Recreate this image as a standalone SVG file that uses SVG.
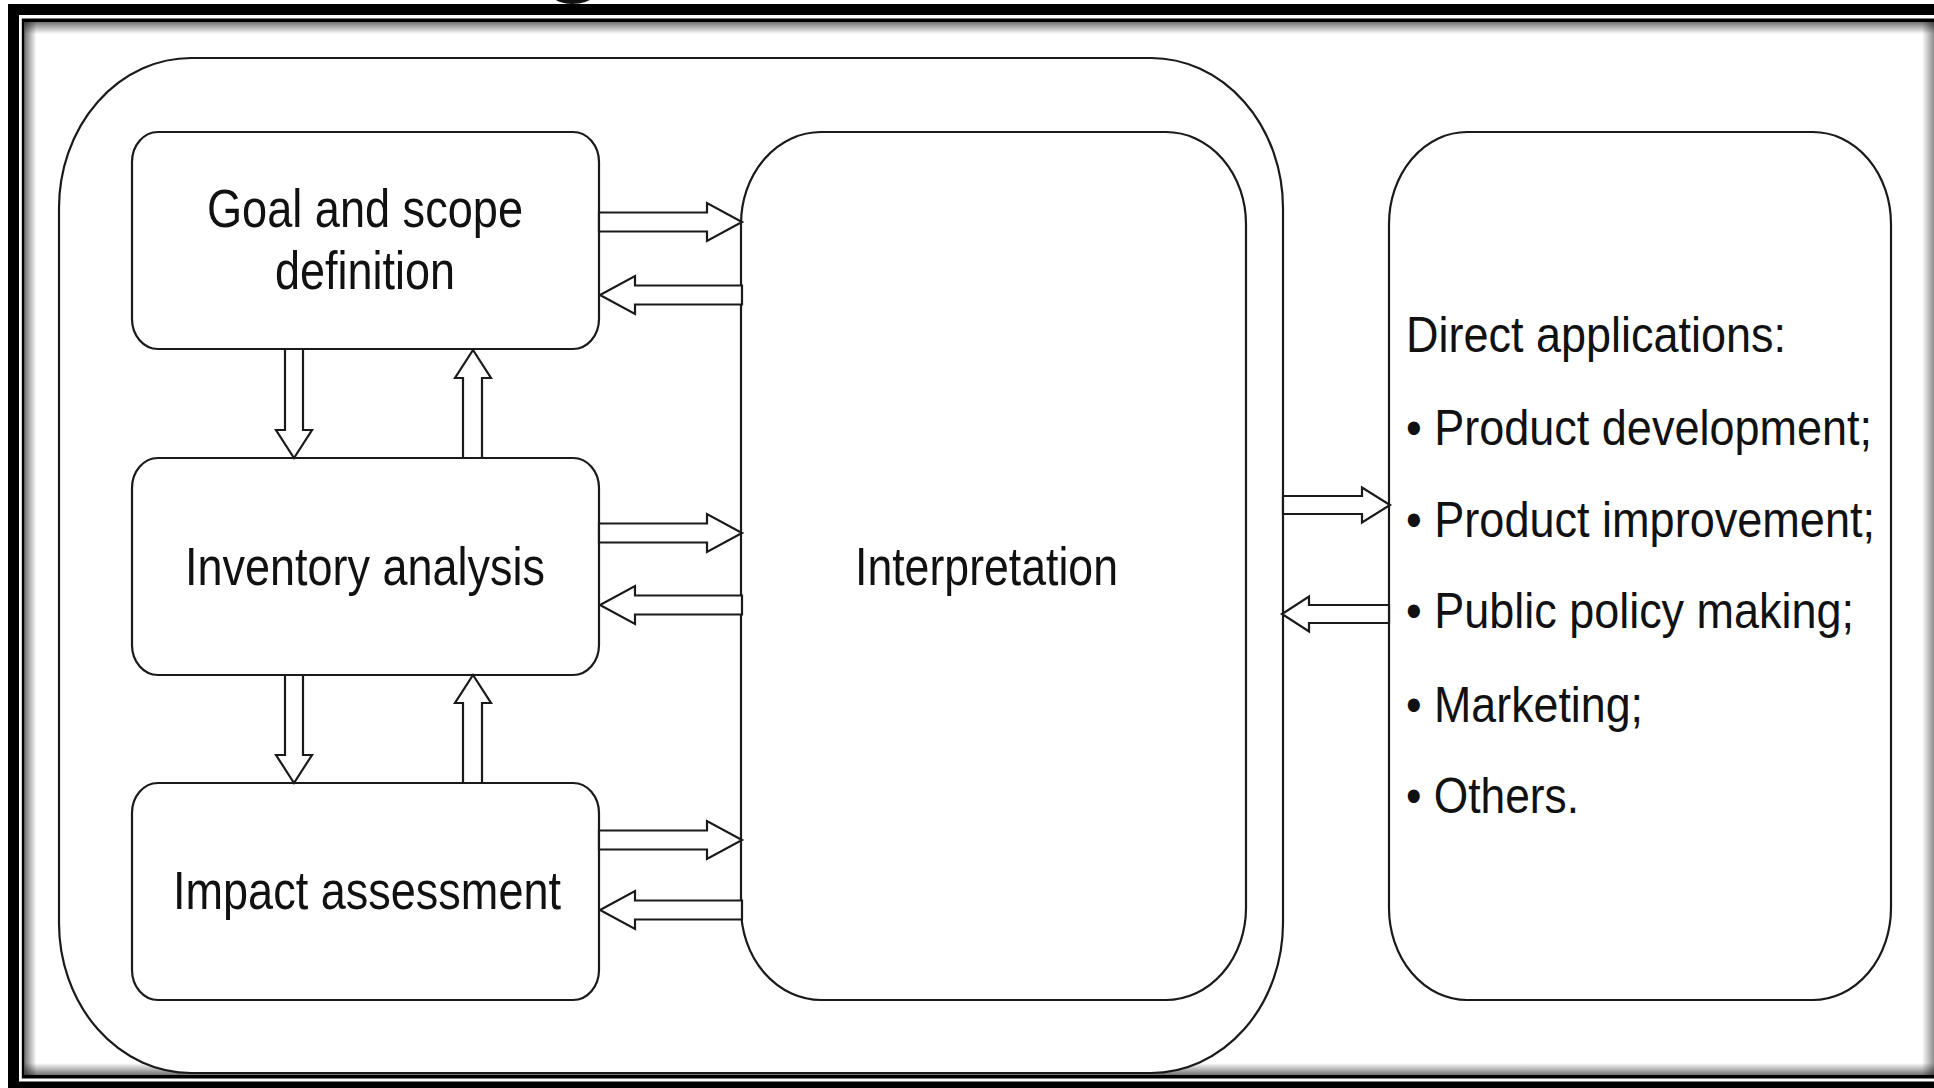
<svg xmlns="http://www.w3.org/2000/svg" width="1934" height="1088" viewBox="0 0 1934 1088">
  <defs>
    <linearGradient id="shTop" x1="0" y1="0" x2="0" y2="1">
      <stop offset="0" stop-color="#000" stop-opacity="0.55"/>
      <stop offset="1" stop-color="#000" stop-opacity="0"/>
    </linearGradient>
    <linearGradient id="shBottom" x1="0" y1="1" x2="0" y2="0">
      <stop offset="0" stop-color="#000" stop-opacity="0.55"/>
      <stop offset="1" stop-color="#000" stop-opacity="0"/>
    </linearGradient>
    <linearGradient id="shLeft" x1="0" y1="0" x2="1" y2="0">
      <stop offset="0" stop-color="#000" stop-opacity="0.55"/>
      <stop offset="1" stop-color="#000" stop-opacity="0"/>
    </linearGradient>
    <linearGradient id="shRight" x1="1" y1="0" x2="0" y2="0">
      <stop offset="0" stop-color="#000" stop-opacity="0.45"/>
      <stop offset="1" stop-color="#000" stop-opacity="0"/>
    </linearGradient>
  </defs>
  <style>
    .box { fill: #fff; stroke: #1a1a1a; stroke-width: 2.2; }
    .arrow { fill: #fff; stroke: #1a1a1a; stroke-width: 2.2; stroke-linejoin: miter; }
    .lbl { font-family: "Liberation Sans", Arial, Helvetica, sans-serif; fill: #111; }
    .big { font-size: 53px; }
    .list { font-size: 50px; }
  </style>

  <rect x="0" y="0" width="1934" height="1088" fill="#fff"/>

  <!-- heading descender peeking above the frame -->
  <text class="lbl" x="540" y="-19" font-size="112" font-weight="bold" fill="#000">g</text>

  <!-- double picture frame with inner shadow -->
  <g id="frame">
    <rect x="8" y="4" width="1960" height="1100" fill="#000"/>
    <rect x="19" y="15" width="1940" height="1066.5" fill="#fff"/>
    <rect x="21.8" y="18.5" width="1940" height="1060" fill="#000"/>
    <rect x="24.5" y="22" width="1935" height="1053" fill="#fff"/>
    <rect x="24.5" y="22" width="1912" height="12" fill="url(#shTop)"/>
    <rect x="24.5" y="22" width="12" height="1053" fill="url(#shLeft)"/>
    <rect x="24.5" y="1063" width="1912" height="12" fill="url(#shBottom)"/>
    <rect x="1922" y="22" width="12" height="1053" fill="url(#shRight)"/>
  </g>

  <!-- LCA framework container -->
  <g id="framework">
    <rect class="box" x="59" y="58" width="1224" height="1015" rx="132" ry="150"/>
  </g>

  <g id="goal">
    <rect class="box" x="132" y="132" width="467" height="217" rx="26" ry="30"/>
    <text class="lbl big" x="207" y="227" textLength="316" lengthAdjust="spacingAndGlyphs">Goal and scope</text>
    <text class="lbl big" x="275" y="289" textLength="180" lengthAdjust="spacingAndGlyphs">definition</text>
  </g>

  <g id="inventory">
    <rect class="box" x="132" y="458" width="467" height="217" rx="26" ry="30"/>
    <text class="lbl big" x="185" y="585" textLength="360" lengthAdjust="spacingAndGlyphs">Inventory analysis</text>
  </g>

  <g id="impact">
    <rect class="box" x="132" y="783" width="467" height="217" rx="26" ry="30"/>
    <text class="lbl big" x="173" y="909" textLength="388" lengthAdjust="spacingAndGlyphs">Impact assessment</text>
  </g>

  <g id="interpretation">
    <rect class="box" x="741" y="132" width="505" height="868" rx="80" ry="92"/>
    <text class="lbl big" x="855" y="585" textLength="263" lengthAdjust="spacingAndGlyphs">Interpretation</text>
  </g>

  <g id="applications">
    <rect class="box" x="1389" y="132" width="502" height="868" rx="78" ry="92"/>
    <text class="lbl list" x="1406" y="352" textLength="380" lengthAdjust="spacingAndGlyphs">Direct applications:</text>
    <text class="lbl list" x="1406" y="445" textLength="466" lengthAdjust="spacingAndGlyphs">• Product development;</text>
    <text class="lbl list" x="1406" y="537" textLength="469" lengthAdjust="spacingAndGlyphs">• Product improvement;</text>
    <text class="lbl list" x="1406" y="628" textLength="448" lengthAdjust="spacingAndGlyphs">• Public policy making;</text>
    <text class="lbl list" x="1406" y="722" textLength="237" lengthAdjust="spacingAndGlyphs">• Marketing;</text>
    <text class="lbl list" x="1406" y="813" textLength="173" lengthAdjust="spacingAndGlyphs">• Others.</text>
  </g>

  <!-- block arrows between the phases -->
  <g id="connectors">
    <!-- goal <-> interpretation -->
    <polygon class="arrow" points="599,212.5 707,212.5 707,203 742,222 707,241 707,231.5 599,231.5"/>
    <polygon class="arrow" points="742,285.5 635,285.5 635,276 600,295 635,314 635,304.5 742,304.5"/>
    <!-- inventory <-> interpretation -->
    <polygon class="arrow" points="599,523.5 707,523.5 707,514 742,533 707,552 707,542.5 599,542.5"/>
    <polygon class="arrow" points="742,595.5 635,595.5 635,586 600,605 635,624 635,614.5 742,614.5"/>
    <!-- impact <-> interpretation -->
    <polygon class="arrow" points="599,830.5 707,830.5 707,821 742,840 707,859 707,849.5 599,849.5"/>
    <polygon class="arrow" points="742,900.5 635,900.5 635,891 600,910 635,929 635,919.5 742,919.5"/>
    <!-- goal <-> inventory -->
    <polygon class="arrow" points="285,349 285,430 276,430 294,458 312,430 303,430 303,349"/>
    <polygon class="arrow" points="463,458 463,378 455,378 473,350 491,378 482,378 482,458"/>
    <!-- inventory <-> impact -->
    <polygon class="arrow" points="285,675 285,755 276,755 294,783 312,755 303,755 303,675"/>
    <polygon class="arrow" points="463,783 463,703 455,703 473,675 491,703 482,703 482,783"/>
    <!-- framework <-> direct applications -->
    <polygon class="arrow" points="1283,496 1362,496 1362,487.5 1390,505 1362,522.5 1362,514 1283,514"/>
    <polygon class="arrow" points="1389,605 1309,605 1309,596.5 1282,614 1309,631.5 1309,623 1389,623"/>
  </g>
</svg>
